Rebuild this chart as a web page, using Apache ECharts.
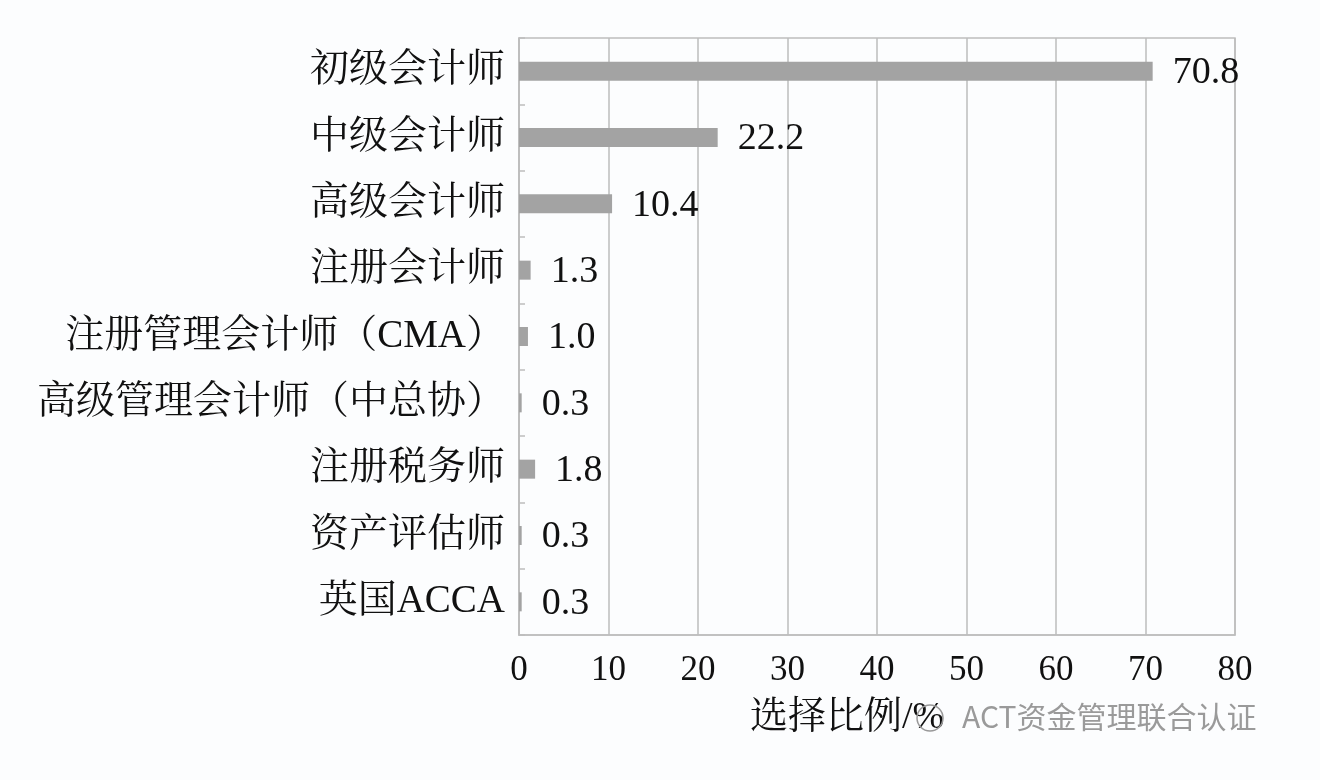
<!DOCTYPE html>
<html>
<head>
<meta charset="utf-8">
<script src="https://cdn.jsdelivr.net/npm/echarts@6/dist/echarts.min.js"></script>
<style>
html,body{margin:0;padding:0;background:#fcfdfe;}
#c{width:1320px;height:780px;}
</style>
</head>
<body>
<div id="c"></div>
<script>
const categories = ['初级会计师','中级会计师','高级会计师','注册会计师','注册管理会计师（CMA）','高级管理会计师（中总协）','注册税务师','资产评估师','英国ACCA'];
const values = [70.8, 22.2, 10.4, 1.3, 1.0, 0.3, 1.8, 0.3, 0.3];
const xTicks = {min: 0, max: 80, interval: 10};
const axisTitle = '选择比例/%';
const watermark = 'ACT资金管理联合认证';

const FONT = "'Liberation Serif', 'Noto Serif CJK SC', 'Noto Sans CJK SC', serif";
const chart = echarts.init(document.getElementById('c'), null, {renderer: 'canvas'});
chart.setOption({
  backgroundColor: '#fcfdfe',
  animation: false,
  grid: {left: 519, top: 38, width: 716, height: 597, show: true, borderColor: '#bdbdbd', borderWidth: 1.5, backgroundColor: 'transparent'},
  xAxis: {
    type: 'value', min: xTicks.min, max: xTicks.max, interval: xTicks.interval,
    axisLine: {show: true, lineStyle: {color: '#bdbdbd', width: 1.5}},
    axisTick: {show: false},
    splitLine: {show: true, lineStyle: {color: '#bdbdbd', width: 1.5}},
    axisLabel: {color: '#111', fontFamily: FONT, fontSize: 35, margin: 18}
  },
  yAxis: {
    type: 'category', data: categories, inverse: true,
    axisLine: {show: true, lineStyle: {color: '#bdbdbd', width: 1.5}},
    axisTick: {show: true, inside: true, length: 6, lineStyle: {color: '#bdbdbd', width: 1.5}},
    axisLabel: {color: '#111', fontFamily: FONT, fontSize: 39, margin: 14}
  },
  series: [{
    type: 'bar', data: values, barWidth: 19,
    itemStyle: {color: '#a3a3a3'},
    label: {show: true, position: 'right', distance: 20, color: '#111', fontFamily: FONT, fontSize: 38, offset: [0, 2],
      formatter: p => p.value.toFixed(1)}
  }],
  graphic: [
    {type: 'text', left: 750, top: 699, style: {text: axisTitle, font: "38px " + FONT, fill: '#111'}},
    {type: 'circle', shape: {cx: 930, cy: 718, r: 13}, style: {fill: 'none', stroke: '#999', lineWidth: 1.5}},
    {type: 'text', left: 962, top: 702, style: {text: watermark, font: "30px 'Noto Sans CJK SC', sans-serif", fill: '#9a9a9a'}}
  ]
});
</script>
</body>
</html>
